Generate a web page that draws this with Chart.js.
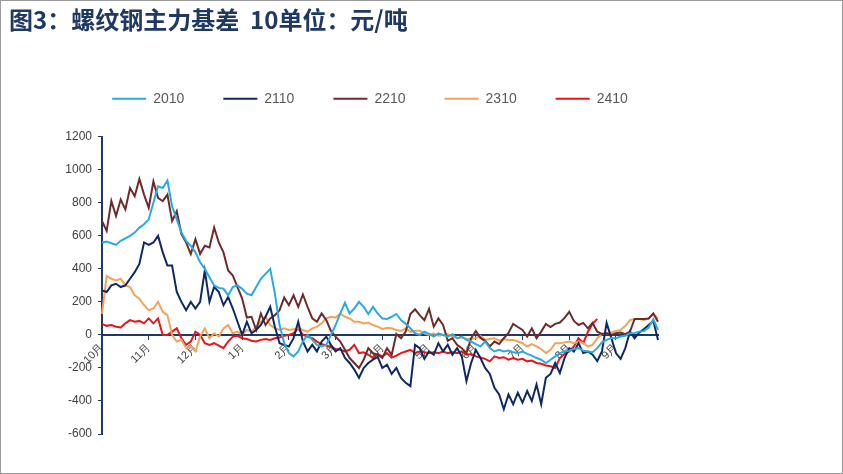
<!DOCTYPE html>
<html>
<head>
<meta charset="utf-8">
<script src="https://cdn.jsdelivr.net/npm/chart.js@4.4.1/dist/chart.umd.min.js"></script>
<style>
  html, body { margin: 0; padding: 0; background: #fff; }
  #wrap { width: 841px; height: 472px; border: 1px solid #9a9a9a; position: relative; }
</style>
</head>
<body>
<div id="wrap"><canvas id="grafico" width="841" height="472"></canvas></div>
<script>
// 螺纹钢主力基差（10合约），元/吨
const meses = ['10月', '11月', '12月', '1月', '2月', '3月', '4月', '5月', '6月', '7月', '8月', '9月'];
const series = ['2010', '2110', '2210', '2310', '2410'];
const cores = ['#29ABE2', '#0F2A62', '#6E2B2B', '#F4A25A', '#E8161B'];

const b2010 = [560, 565, 555, 545, 570, 585, 600, 620, 650, 670,
  700, 800, 900, 890, 935, 780, 700, 620, 570, 540,
  500, 440, 400, 350, 300, 285, 280, 240, 290, 300,
  280, 250, 240, 290, 340, 370, 400, 250, 60, -50,
  -110, -130, -100, -40, 0, -30, -60, -70, -60, 0,
  60, 130, 195, 130, 160, 200, 170, 127, 170, 130,
  100, 97, 110, 127, 90, 67, 40, 10, 0, 20,
  6, -10, 10, 0, -10, 5, -20, -10, -30, -40,
  -55, -70, -40, -80, -100, -90, -100, -95, -105, -110,
  -100, -115, -125, -140, -150, -170, -150, -130, -110, -100,
  -95, -85, -80, -95, -100, -105, -80, -45, -30, -18,
  -20, -10, -5, 10, 12, 20, 24, 45, 95, 30];

const b2110 = [270, 260, 300, 310, 290, 300, 340, 380, 430, 560,
  545, 560, 600, 500, 420, 420, 260, 200, 150, 200,
  160, 200, 390, 200, 290, 260, 180, 230, 160, 80,
  0, 80, 10, 30, 60, 110, 170, 50, -50, -60,
  -70, -20, 80, -40, -100, -60, -100, -40, -10, -60,
  -100, -80, -140, -170, -210, -260, -200, -170, -150, -133,
  -200, -180, -236, -200, -260, -290, -310, -60, -80, -145,
  -100, -120, -50, -100, -60, -120, -80, -130, -280, -170,
  -90, -140, -200, -236, -320, -360, -450, -360, -420, -350,
  -410, -340, -400, -300, -420, -260, -236, -170, -230, -140,
  -80, -100, -50, -110, -100, -120, -158, -100, 73, -18,
  -110, -145, -80, 20, -20, 15, 36, 60, 85, -30];

const b2210 = [690, 630, 812, 720, 820, 760, 890, 840, 945, 850,
  770, 930, 830, 810, 850, 690, 750, 610, 560, 490,
  580, 490, 540, 530, 650, 560, 500, 390, 360, 290,
  220, 105, 110, 30, 130, 60, 100, 120, 150, 226,
  180, 240, 170, 245, 170, 100, 80, 130, 90, 24,
  -10, -40, -90, -140, -170, -200, -150, -80, -110, -120,
  -140, -80, -120, 6, -20, 20, 127, 155, 120, 90,
  158, 50, 100, 60, -36, -20, -60, -80, -110, -20,
  24, -18, -36, -70, -40, -55, -20, 12, 67, 48,
  30, -10, 40, -20, 20, 67, 48, 67, 75, 103,
  140, 85, 60, 73, 40, 73, 20, 6, 10, 0,
  10, 15, 5, 20, 97, 97, 97, 100, 130, 80];

const b2310 = [127, 357, 340, 330, 340, 300, 290, 240, 220, 180,
  150, 160, 200, 140, 120, 0, -40, -30, -80, -70,
  -100, -10, 40, -20, 10, -10, 40, 60, 10, 20,
  0, 30, 20, 50, 80, 110, 60, 40, 30, 40,
  30, 35, 40, 30, 20, 40, 50, 70, 100, 110,
  105, 130, 110, 100, 80, 80, 70, 75, 60, 50,
  36, 42, 40, 30, 24, 40, 20, 25, 25, 10,
  0, 10, -5, 0, 5, -10, -20, -15, -25, -25,
  -20, -6, -30, -25, -20, -35, -25, -30, -30, -40,
  -50, -70, -55, -70, -85, -110, -90, -50, -50, -45,
  -40, -50, -40, -50, -70, -60, -20, 6, 10, 15,
  24, 30, 55, 90, 97, 97, 90, 100, 127, 100];

const b2410 = [67, 55, 60, 50, 45, 70, 90, 80, 85, 70,
  100, 70, 100, 0, 0, 20, 40, -20, -60, -40,
  20, 0, -50, -60, -50, -65, -80, -40, -10, -5,
  -20, -25, -35, -40, -30, -25, -30, -20, -15, -5,
  0, 10, 40, 0, -10, -20, -40, -55, -65, -75,
  -85, -90, -100, -90, -60, -110, -105, -120, -140, -115,
  -130, -110, -137, -125, -110, -100, -90, -110, -100, -105,
  -110, -105, -110, -100, -110, -105, -110, -100, -120, -115,
  -130, -137, -145, -160, -130, -140, -135, -150, -140, -150,
  -145, -160, -155, -170, -175, -185, -190, -200, -140, -115,
  -100, -70, -20, -50, 20, 67, 97];

const yTicks = [-600, -400, -200, 0, 200, 400, 600, 800, 1000, 1200];

// 每月10个点，月初放月份标签
const labels = [];
for (let i = 0; i < b2010.length; i++) {
  labels.push(i % 10 === 0 ? meses[i / 10] : '');
}

const valores = [b2010, b2110, b2210, b2310, b2410];
const datasets = series.map((nome, k) => ({
  label: nome,
  data: valores[k],
  borderColor: cores[k],
  backgroundColor: cores[k],
  borderWidth: 2,
  pointRadius: 0,
  tension: 0,
  fill: false
}));

const ctx = document.getElementById('grafico').getContext('2d');
const grafico = new Chart(ctx, {
  type: 'line',
  data: { labels: labels, datasets: datasets },
  options: {
    responsive: false,
    animation: false,
    layout: { padding: { left: 8, right: 111, top: 0, bottom: 39 } },
    scales: {
      x: {
        type: 'category',
        position: { y: 0 },
        offset: false,
        border: { color: '#1F3864', width: 2 },
        grid: { drawOnChartArea: false, drawTicks: true, tickLength: 4, color: '#1F3864' },
        ticks: {
          autoSkip: false,
          minRotation: 45,
          maxRotation: 45,
          padding: 2,
          color: '#404040',
          font: { family: 'Liberation Sans', size: 11 },
          callback: function (v, i) {
            const t = labels[i];
            return t ? t : null;
          }
        }
      },
      // 图例与绘图区之间的留白
      topo: {
        type: 'linear',
        axis: 'x',
        position: 'top',
        display: true,
        afterFit: function (scale) { scale.height = 21; },
        border: { display: false },
        grid: { display: false },
        ticks: { display: false }
      },
      y: {
        min: -600,
        max: 1200,
        afterFit: function (scale) { scale.width = 93; },
        afterBuildTicks: function (scale) { scale.ticks = yTicks.map(v => ({ value: v })); },
        border: { color: '#1F3864', width: 2 },
        grid: { drawOnChartArea: false, drawTicks: true, tickLength: 4, color: '#1F3864' },
        ticks: {
          color: '#404040',
          padding: 6,
          font: { family: 'Liberation Sans', size: 12 },
          callback: function (v) { return String(v); }
        }
      },
      // 右侧留白
      vazio: {
        type: 'linear',
        position: 'right',
        display: true,
        afterFit: function (scale) { scale.width = 73; },
        border: { display: false },
        grid: { display: false },
        ticks: { display: false }
      }
    },
    plugins: {
      title: {
        display: true,
        text: '图3：螺纹钢主力基差  10单位：元/吨',
        align: 'start',
        color: '#1F3864',
        font: { family: 'Noto Sans CJK SC', size: 24, weight: 'bold' },
        padding: { top: 4, bottom: 19 }
      },
      legend: {
        position: 'top',
        align: 'center',
        labels: {
          boxWidth: 34,
          boxHeight: 2,
          padding: 39,
          color: '#595959',
          font: { family: 'Liberation Sans', size: 14 },
          generateLabels: function (chart) {
            const itens = Chart.defaults.plugins.legend.labels.generateLabels(chart);
            itens.forEach(it => { it.lineWidth = 0; });
            return itens;
          }
        }
      },
      tooltip: { enabled: false }
    }
  }
});
</script>
</body>
</html>
